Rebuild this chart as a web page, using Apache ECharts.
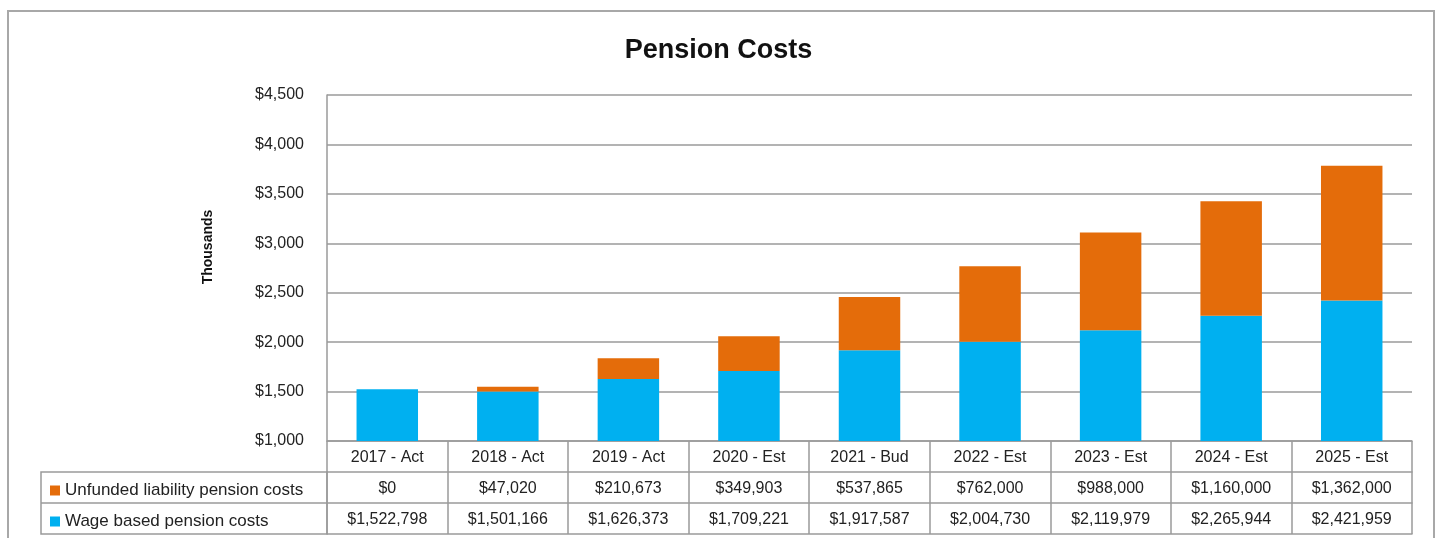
<!DOCTYPE html>
<html>
<head>
<meta charset="utf-8">
<script src="https://cdn.jsdelivr.net/npm/echarts@6/dist/echarts.min.js"></script>
<style>
  html, body { margin: 0; padding: 0; background: #fff; }
  #chart { width: 1437px; height: 538px; }
</style>
</head>
<body>
<div id="chart"></div>
<script>
// 数据 (dollars)
const categories = ['2017 - Act', '2018 - Act', '2019 - Act', '2020 - Est', '2021 - Bud',
  '2022 - Est', '2023 - Est', '2024 - Est', '2025 - Est'];
const unfunded = [0, 47020, 210673, 349903, 537865, 762000, 988000, 1160000, 1362000];
const wage = [1522798, 1501166, 1626373, 1709221, 1917587, 2004730, 2119979, 2265944, 2421959];
const seriesNames = ['Wage based pension costs', 'Unfunded liability pension costs'];
const yTicks = [1000, 1500, 2000, 2500, 3000, 3500, 4000, 4500];

const font = 'Liberation Sans';
const lineColor = '#9a9a9a';
const money = v => '$' + v.toLocaleString('en-US');

const chart = echarts.init(document.getElementById('chart'), null, {renderer: 'canvas'});

// 表格行: 每行一个 x 轴, 往下偏移
function tableAxis(offset, values) {
  return {
    type: 'category',
    data: categories,
    position: 'bottom',
    offset: offset,
    axisLine: {show: true, lineStyle: {color: lineColor, width: 1.5}},
    axisTick: {show: values !== null, length: 31, lineStyle: {color: lineColor, width: 1.5}},
    axisLabel: {
      show: values !== null,
      interval: 0,
      margin: 9,
      fontFamily: font,
      fontSize: 16,
      color: '#222',
      formatter: (v, i) => values ? values[i] : v
    }
  };
}

// 图例放在表格左列
function rowLegend(name, top) {
  return {
    data: [name],
    left: 45,
    top: top,
    itemWidth: 10,
    itemHeight: 10,
    itemGap: 6,
    icon: 'rect',
    selectedMode: false,
    textStyle: {fontFamily: font, fontSize: 17, color: '#222'}
  };
}

chart.setOption({
  animation: false,
  title: {
    text: 'Pension Costs',
    left: 'center',
    top: 32,
    textStyle: {fontFamily: font, fontSize: 27, fontWeight: 'bold', color: '#111'}
  },
  legend: [
    rowLegend(seriesNames[1], 477),
    rowLegend(seriesNames[0], 508)
  ],
  grid: {left: 327, right: 25, top: 95, bottom: 97, containLabel: false},
  xAxis: [
    tableAxis(0, categories),
    tableAxis(31, unfunded.map(money)),
    tableAxis(62, wage.map(money)),
    tableAxis(93, null)
  ],
  yAxis: {
    type: 'value',
    min: yTicks[0],
    max: yTicks[yTicks.length - 1],
    interval: 500,
    axisLine: {show: true, lineStyle: {color: lineColor, width: 1.5}},
    axisTick: {show: false},
    splitLine: {lineStyle: {color: lineColor, width: 1.5}},
    axisLabel: {
      margin: 23,
      fontFamily: font,
      fontSize: 16,
      color: '#222',
      formatter: v => money(v)
    }
  },
  series: [
    {
      name: seriesNames[0],
      type: 'bar',
      stack: 'total',
      barWidth: '51%',
      itemStyle: {color: '#00B0F0'},
      data: wage.map(v => v / 1000)
    },
    {
      name: seriesNames[1],
      type: 'bar',
      stack: 'total',
      barWidth: '51%',
      itemStyle: {color: '#E46C0A'},
      data: unfunded.map(v => v / 1000)
    }
  ],
  graphic: [
    // 外框
    {type: 'rect', shape: {x: 8, y: 11, width: 1426, height: 540},
      style: {fill: 'none', stroke: '#a8a8a8', lineWidth: 2}, silent: true},
    // 表格左侧图例格
    {type: 'rect', shape: {x: 41, y: 472, width: 286, height: 62},
      style: {fill: 'none', stroke: lineColor, lineWidth: 1.5}, silent: true},
    {type: 'line', shape: {x1: 41, y1: 503, x2: 327, y2: 503},
      style: {stroke: lineColor, lineWidth: 1.5}, silent: true},
    // y 轴标题
    {type: 'text', x: 208, y: 247, rotation: Math.PI / 2, silent: true,
      style: {text: 'Thousands', fontFamily: font, fontSize: 14, fontWeight: 'bold',
        fill: '#111', align: 'center', verticalAlign: 'middle'}}
  ]
});
</script>
</body>
</html>
